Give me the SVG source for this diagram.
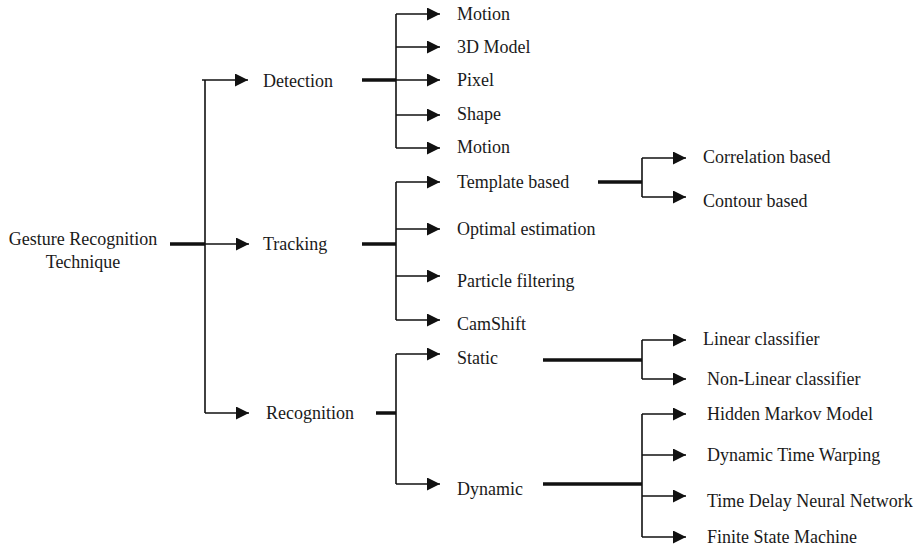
<svg xmlns="http://www.w3.org/2000/svg" width="920" height="547" viewBox="0 0 920 547">
<style>
text{font-family:"Liberation Serif","Times New Roman",serif;font-size:18px;fill:#1a1a1a}
.c{fill:none;stroke:#111;stroke-width:1.6}
.s{fill:none;stroke:#111;stroke-width:3.5}
</style>
<defs>
<marker id="ah" markerUnits="userSpaceOnUse" markerWidth="14" markerHeight="14" refX="13" refY="6.5" orient="auto">
<path d="M0,0 L13,6.5 L0,13 Z" fill="#111"/>
</marker>
</defs>
<rect width="920" height="547" fill="#fff"/>
<g id="connectors">
<!-- root -->
<line class="s" x1="170" y1="244" x2="205" y2="244"/>
<line class="c" x1="205" y1="80" x2="205" y2="413"/>
<line class="c" x1="202" y1="80" x2="248" y2="80" marker-end="url(#ah)"/>
<line class="c" x1="205" y1="244" x2="249" y2="244" marker-end="url(#ah)"/>
<line class="c" x1="205" y1="413" x2="249" y2="413" marker-end="url(#ah)"/>
<!-- detection -->
<line class="s" x1="362" y1="80" x2="396" y2="80"/>
<line class="c" x1="396" y1="14" x2="396" y2="148"/>
<line class="c" x1="396" y1="14" x2="440" y2="14" marker-end="url(#ah)"/>
<line class="c" x1="396" y1="47" x2="440" y2="47" marker-end="url(#ah)"/>
<line class="c" x1="396" y1="80" x2="440" y2="80" marker-end="url(#ah)"/>
<line class="c" x1="396" y1="115" x2="440" y2="115" marker-end="url(#ah)"/>
<line class="c" x1="396" y1="148" x2="440" y2="148" marker-end="url(#ah)"/>
<!-- tracking -->
<line class="s" x1="362" y1="244" x2="396" y2="244"/>
<line class="c" x1="396" y1="182" x2="396" y2="320"/>
<line class="c" x1="396" y1="182" x2="440" y2="182" marker-end="url(#ah)"/>
<line class="c" x1="396" y1="229" x2="440" y2="229" marker-end="url(#ah)"/>
<line class="c" x1="396" y1="276" x2="440" y2="276" marker-end="url(#ah)"/>
<line class="c" x1="396" y1="320" x2="440" y2="320" marker-end="url(#ah)"/>
<!-- template based -->
<line class="s" x1="598" y1="182" x2="642" y2="182"/>
<line class="c" x1="642" y1="158" x2="642" y2="197"/>
<line class="c" x1="642" y1="158" x2="686" y2="158" marker-end="url(#ah)"/>
<line class="c" x1="642" y1="197" x2="686" y2="197" marker-end="url(#ah)"/>
<!-- recognition -->
<line class="s" x1="376" y1="413" x2="396" y2="413"/>
<line class="c" x1="396" y1="354" x2="396" y2="484"/>
<line class="c" x1="396" y1="354" x2="440" y2="354" marker-end="url(#ah)"/>
<line class="c" x1="396" y1="484" x2="440" y2="484" marker-end="url(#ah)"/>
<!-- static -->
<line class="s" x1="543" y1="360" x2="642" y2="360"/>
<line class="c" x1="642" y1="340" x2="642" y2="379"/>
<line class="c" x1="642" y1="340" x2="686" y2="340" marker-end="url(#ah)"/>
<line class="c" x1="642" y1="379" x2="686" y2="379" marker-end="url(#ah)"/>
<!-- dynamic -->
<line class="s" x1="543" y1="484" x2="642" y2="484"/>
<line class="c" x1="642" y1="414" x2="642" y2="537"/>
<line class="c" x1="642" y1="414" x2="686" y2="414" marker-end="url(#ah)"/>
<line class="c" x1="642" y1="455" x2="686" y2="455" marker-end="url(#ah)"/>
<line class="c" x1="642" y1="496" x2="686" y2="496" marker-end="url(#ah)"/>
<line class="c" x1="642" y1="537" x2="686" y2="537" marker-end="url(#ah)"/>
</g>
<g id="root"><text x="83" y="245" text-anchor="middle">Gesture Recognition</text><text x="83" y="268" text-anchor="middle">Technique</text></g>
<g id="detection"><text x="263" y="87">Detection</text></g>
<g id="tracking"><text x="263" y="250">Tracking</text></g>
<g id="recognition"><text x="266" y="419">Recognition</text></g>
<g id="motion1"><text x="457" y="20">Motion</text></g>
<g id="model3d"><text x="457" y="53">3D Model</text></g>
<g id="pixel"><text x="457" y="86">Pixel</text></g>
<g id="shape"><text x="457" y="120">Shape</text></g>
<g id="motion2"><text x="457" y="153">Motion</text></g>
<g id="template"><text x="457" y="188">Template based</text></g>
<g id="optimal"><text x="457" y="235">Optimal estimation</text></g>
<g id="particle"><text x="457" y="287">Particle filtering</text></g>
<g id="camshift"><text x="457" y="330">CamShift</text></g>
<g id="static"><text x="457" y="364">Static</text></g>
<g id="dynamic"><text x="457" y="495">Dynamic</text></g>
<g id="correlation"><text x="703" y="163">Correlation based</text></g>
<g id="contour"><text x="703" y="207">Contour based</text></g>
<g id="linear"><text x="703" y="345">Linear classifier</text></g>
<g id="nonlinear"><text x="707" y="385">Non-Linear classifier</text></g>
<g id="hmm"><text x="707" y="420">Hidden Markov Model</text></g>
<g id="dtw"><text x="707" y="461">Dynamic Time Warping</text></g>
<g id="tdnn"><text x="707" y="507">Time Delay Neural Network</text></g>
<g id="fsm"><text x="707" y="543">Finite State Machine</text></g>
</svg>
